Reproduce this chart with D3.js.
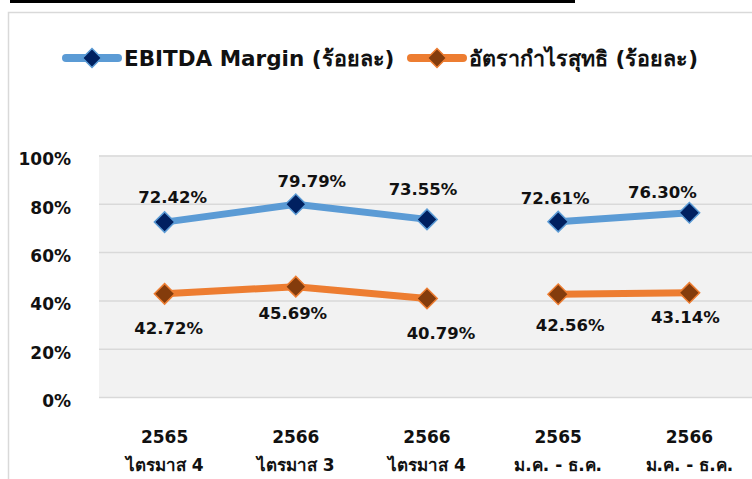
<!DOCTYPE html>
<html>
<head>
<meta charset="utf-8">
<script src="https://cdn.jsdelivr.net/npm/d3@7.9.0/dist/d3.min.js"></script>
<style>
  body { margin: 0; background: #fff; }
  svg { display: block; font-family: Tahoma, "DejaVu Sans", sans-serif; }
</style>
</head>
<body>
<svg id="chart" width="752" height="479"></svg>
<script>
// data
const years = ['2565', '2566', '2566', '2565', '2566'];
const periods = ['ไตรมาส 4', 'ไตรมาส 3', 'ไตรมาส 4', 'ม.ค. - ธ.ค.', 'ม.ค. - ธ.ค.'];
const groups = ['quarter', 'quarter', 'quarter', 'year', 'year'];
const ebitdaMargin = [72.42, 79.79, 73.55, 72.61, 76.30];
const netMargin = [42.72, 45.69, 40.79, 42.56, 43.14];
const yTicks = [0, 20, 40, 60, 80, 100];

// label nudges (px from marker) as placed in the original
const ebitdaNudge = [[8, -25], [16, -23], [-4, -30], [-3, -24], [-27, -21]];
const netNudge = [[4, 34], [-3, 26], [14, 35], [12, 31], [-4, 24]];

const svg = d3.select('#chart');
const W = 752, H = 479;
const plot = { left: 99, right: 755, top: 155.5, bottom: 397 };

// frame bits
svg.append('rect').attr('x', 10).attr('y', 0).attr('width', 565).attr('height', 3).attr('fill', '#000');
svg.append('rect')
  .attr('x', 8.5).attr('y', 12.5).attr('width', W).attr('height', H)
  .attr('fill', 'none').attr('stroke', '#d9d9d9').attr('stroke-width', 1.5);

const keys = d3.range(years.length);
const x = d3.scaleBand().domain(keys).range([plot.left, plot.right]);
const y = d3.scaleLinear().domain([0, 100]).range([plot.bottom, plot.top]);
const cx = i => x(i) + x.bandwidth() / 2;

svg.append('rect')
  .attr('x', plot.left).attr('y', plot.top)
  .attr('width', plot.right - plot.left).attr('height', plot.bottom - plot.top)
  .attr('fill', '#f2f2f2');

const yAxis = svg.append('g')
  .attr('transform', `translate(${plot.left},0)`)
  .call(d3.axisLeft(y).tickValues(yTicks).tickSize(-(plot.right - plot.left)).tickFormat(d => d + '%'));
yAxis.select('.domain').remove();
yAxis.selectAll('.tick line').attr('stroke', '#d9d9d9').attr('stroke-width', 1.5);
yAxis.selectAll('.tick text')
  .attr('x', -28).attr('dy', '0.55em')
  .attr('font-size', 17).attr('font-weight', 'bold').attr('fill', '#111')
  .attr('font-family', 'Tahoma, "DejaVu Sans", sans-serif');

// category labels, two lines
const xl = svg.append('g');
keys.forEach(i => {
  const t = xl.append('text')
    .attr('x', cx(i)).attr('text-anchor', 'middle')
    .attr('font-size', 17).attr('font-weight', 'bold').attr('fill', '#111');
  t.append('tspan').attr('x', cx(i)).attr('y', 443).text(years[i]);
  t.append('tspan').attr('x', cx(i)).attr('y', 471).text(periods[i]);
});

const series = [
  { name: 'EBITDA Margin (ร้อยละ)', values: ebitdaMargin, nudge: ebitdaNudge, line: '#5b9bd5', fill: '#002060' },
  { name: 'อัตรากำไรสุทธิ (ร้อยละ)', values: netMargin, nudge: netNudge, line: '#ed7d31', fill: '#843c0c' }
];

const line = d3.line().x(i => cx(i)).curve(d3.curveLinear);
const marker = d3.symbol(d3.symbolSquare, 210);
const groupNames = Array.from(new Set(groups));

series.forEach(s => {
  line.y(i => y(s.values[i]));
  groupNames.forEach(g => {
    svg.append('path')
      .attr('d', line(keys.filter(i => groups[i] === g)))
      .attr('fill', 'none').attr('stroke', s.line)
      .attr('stroke-width', 7).attr('stroke-linejoin', 'round').attr('stroke-linecap', 'round');
  });
  keys.forEach(i => {
    svg.append('path')
      .attr('d', marker())
      .attr('transform', `translate(${cx(i)},${y(s.values[i])}) rotate(45)`)
      .attr('fill', s.fill).attr('stroke', s.line).attr('stroke-width', 1.5);
    svg.append('text')
      .attr('x', cx(i) + s.nudge[i][0]).attr('y', y(s.values[i]) + s.nudge[i][1])
      .attr('dy', '0.36em').attr('text-anchor', 'middle')
      .attr('font-size', 16.5).attr('font-weight', 'bold').attr('fill', '#111')
      .text(s.values[i].toFixed(2) + '%');
  });
});

// legend
const legendX = [63, 408];
series.forEach((s, k) => {
  const g = svg.append('g').attr('transform', `translate(${legendX[k]},58)`);
  g.append('line').attr('x1', 3).attr('x2', 55).attr('y1', 0).attr('y2', 0)
    .attr('stroke', s.line).attr('stroke-width', 8).attr('stroke-linecap', 'round');
  g.append('path').attr('d', d3.symbol(d3.symbolSquare, 180)())
    .attr('transform', 'translate(29,0) rotate(45)')
    .attr('fill', s.fill).attr('stroke', s.line).attr('stroke-width', 1.5);
  g.append('text').attr('x', 61).attr('dy', '0.36em')
    .attr('font-size', 21.5).attr('font-weight', 'bold').attr('fill', '#111')
    .text(s.name);
});
</script>
</body>
</html>
